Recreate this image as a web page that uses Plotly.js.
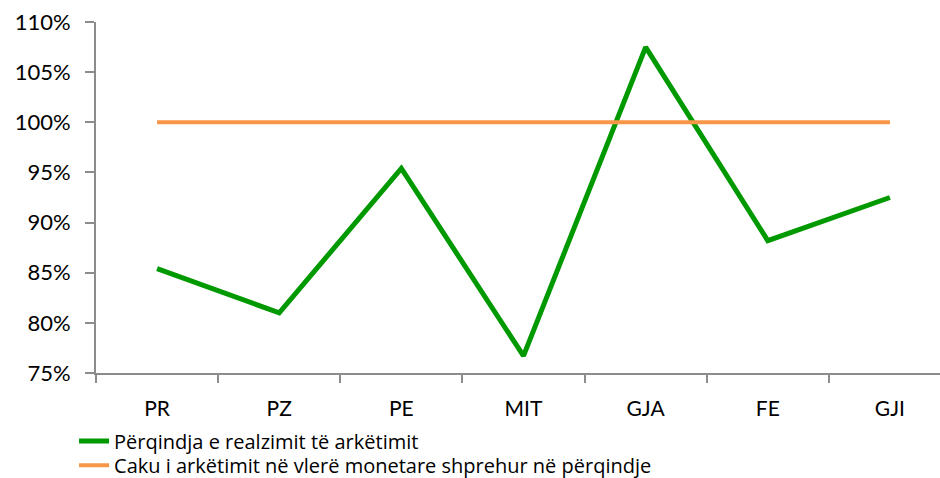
<!DOCTYPE html>
<html>
<head>
<meta charset="utf-8">
<script src="https://cdn.plot.ly/plotly-3.0.1.min.js"></script>
<style>html,body{margin:0;padding:0;background:#fff;}#chart{width:940px;height:478px;}</style>
</head>
<body>
<div id="chart"></div>
<script>
const categories = ["PR", "PZ", "PE", "MIT", "GJA", "FE", "GJI"];
const realizationPct = [0.854, 0.810, 0.954, 0.767, 1.075, 0.882, 0.925];
const targetPct = [1.00, 1.00, 1.00, 1.00, 1.00, 1.00, 1.00];
const seriesNames = ["Përqindja e realzimit të arkëtimit", "Caku i arkëtimit në vlerë monetare shprehur në përqindje"];

const font = "Lato, 'Open Sans', sans-serif";
const legendFont = {family: "'Open Sans', sans-serif", size: 20, color: "#000"};
const traces = [
  {x: categories, y: realizationPct, name: seriesNames[0], type: "scatter", mode: "lines",
   line: {color: "#009900", width: 5}, legend: "legend"},
  {x: categories, y: targetPct, name: seriesNames[1], type: "scatter", mode: "lines",
   line: {color: "#F79646", width: 4}, legend: "legend2"}
];
const layout = {
  width: 940, height: 478,
  margin: {l: 96, r: 0, t: 22, b: 105, autoexpand: false},
  paper_bgcolor: "#fff", plot_bgcolor: "#fff",
  font: {family: font, size: 20, color: "#000"},
  showlegend: true,
  legend: {x: -0.026, xanchor: "left", y: -0.138, yanchor: "top", orientation: "v",
           font: legendFont, bgcolor: "rgba(0,0,0,0)"},
  legend2: {x: -0.026, xanchor: "left", y: -0.207, yanchor: "top", orientation: "v",
           font: legendFont, bgcolor: "rgba(0,0,0,0)"},
  xaxis: {type: "category", range: [-0.5, 6.41], showgrid: false, zeroline: false,
          showline: true, linecolor: "#8c8c8c", linewidth: 2,
          ticks: "outside", tickson: "boundaries", ticklen: 8, tickcolor: "#8c8c8c", tickwidth: 2,
          tickfont: {family: font, size: 21, color: "#000"}, ticklabelstandoff: 16},
  yaxis: {range: [0.75, 1.10], dtick: 0.05, tickformat: ".0%", showgrid: false, zeroline: false,
          showline: true, linecolor: "#8c8c8c", linewidth: 2,
          ticks: "outside", ticklen: 9, tickcolor: "#8c8c8c", tickwidth: 2,
          tickfont: {family: font, size: 22, color: "#000"}, ticklabelstandoff: 10}
};
Plotly.newPlot("chart", traces, layout, {staticPlot: true, displayModeBar: false});
</script>
</body>
</html>
